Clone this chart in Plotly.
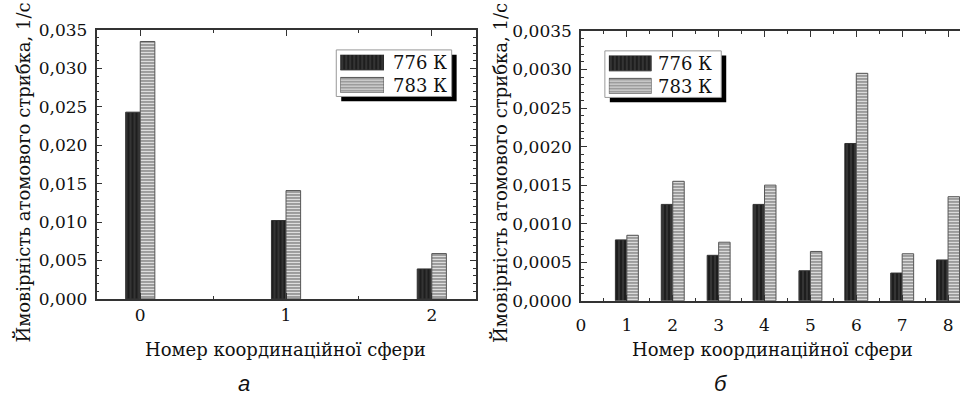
import plotly.graph_objects as go

# ---- data ----
spheres_a = [0, 1, 2]
p776_a = [0.0243, 0.0102, 0.0039]
p783_a = [0.0335, 0.0141, 0.0059]

spheres_b = [1, 2, 3, 4, 5, 6, 7, 8]
p776_b = [0.00079, 0.00125, 0.00059, 0.00125, 0.00039, 0.00204, 0.00036, 0.00053]
p783_b = [0.00085, 0.00155, 0.00076, 0.00150, 0.00064, 0.00295, 0.00061, 0.00135]

series_names = ["776 К", "783 К"]
ytitle = "Ймовірність атомового стрибка, 1/с"
xtitle = "Номер координаційної сфери"
panel_labels = ["а", "б"]

W, H = 960, 403
FONT = "DejaVu Serif"

def px_x(v):
    return v / W

def px_y(v):
    return 1 - v / H

dark = dict(color="#1e1e1e", line=dict(color="#333", width=1),
            pattern=dict(shape="|", fgcolor="#4a4a4a", bgcolor="#1e1e1e", size=4, solidity=0.25, fillmode="replace"))
gray = dict(color="#9a9a9a", line=dict(color="#555", width=1),
            pattern=dict(shape="-", fgcolor="#e0e0e0", bgcolor="#8e8e8e", size=3, solidity=0.45, fillmode="replace"))
styles = [dark, gray]

fig = go.Figure()
fig.add_bar(x=spheres_a, y=p776_a, offset=-0.1, width=0.1, marker=dark, name=series_names[0],
            xaxis="x", yaxis="y")
fig.add_bar(x=spheres_a, y=p783_a, offset=0, width=0.1, marker=gray, name=series_names[1],
            xaxis="x", yaxis="y")
fig.add_bar(x=spheres_b, y=p776_b, offset=-0.25, width=0.25, marker=dark, name=series_names[0],
            xaxis="x2", yaxis="y2")
fig.add_bar(x=spheres_b, y=p783_b, offset=0, width=0.25, marker=gray, name=series_names[1],
            xaxis="x2", yaxis="y2")

# legend key swatches (drawn as small horizontal bars on inset axes)
for k, (xa, ya) in enumerate([("x3", "y3"), ("x4", "y4")]):
    for i, nm in enumerate(series_names):
        fig.add_bar(x=[1], y=[i], orientation="h", width=0.67, marker=styles[i],
                    xaxis=xa, yaxis=ya, hoverinfo="skip", name=nm)

axcommon = dict(showline=True, linecolor="#333", linewidth=1.5, showgrid=False, zeroline=False,
                ticks="inside", tickcolor="#333", ticklen=6, tickwidth=1.2,
                tickfont=dict(family=FONT, size=17, color="#111"))
hidden = dict(visible=False, showgrid=False, zeroline=False, fixedrange=True)

fig.update_layout(
    width=W, height=H, margin=dict(l=0, r=0, t=0, b=0),
    paper_bgcolor="white", plot_bgcolor="rgba(0,0,0,0)",
    separators=", ", barmode="overlay", showlegend=False,
    xaxis=dict(axcommon, domain=[px_x(92), px_x(473)], range=[-0.3, 2.3], tickvals=[0, 1, 2],
               mirror="ticks", anchor="y",
               minor=dict(dtick=0.5, tick0=0, ticks="inside", ticklen=3, tickcolor="#333")),
    yaxis=dict(axcommon, domain=[px_y(304), px_y(21)], range=[0, 0.035], dtick=0.005,
               tickformat=".3f", mirror="ticks", anchor="x", ticklabelstandoff=4,
               minor=dict(dtick=0.001, ticks="inside", ticklen=3, tickcolor="#333")),
    xaxis2=dict(axcommon, domain=[px_x(579), 1.0], range=[0, 8.26], dtick=1, tick0=0,
                mirror="ticks", anchor="y2", ticklabelstandoff=8,
                minor=dict(dtick=0.5, tick0=0, ticks="inside", ticklen=3, tickcolor="#333")),
    yaxis2=dict(axcommon, domain=[px_y(306), px_y(22)], range=[0, 0.0035], dtick=0.0005,
                tickformat=".4f", mirror=False, anchor="x2", ticklabelstandoff=4,
                minor=dict(dtick=0.0001, ticks="inside", ticklen=3, tickcolor="#333")),
    xaxis3=dict(hidden, domain=[px_x(337), px_x(381)], range=[0, 1], anchor="y3"),
    yaxis3=dict(hidden, domain=[px_y(87), px_y(47)], range=[1.333, -0.333], anchor="x3"),
    xaxis4=dict(hidden, domain=[px_x(607), px_x(650)], range=[0, 1], anchor="y4"),
    yaxis4=dict(hidden, domain=[px_y(88), px_y(48)], range=[1.333, -0.333], anchor="x4"),
)

# legend boxes with shadows
for (x0, x1, y0, y1) in [(333, 449, 42, 91), (603, 720, 43, 92)]:
    fig.add_shape(type="rect", xref="paper", yref="paper",
                  x0=px_x(x0 + 5), x1=px_x(x1 + 5), y0=px_y(y1 + 5), y1=px_y(y0 + 5),
                  fillcolor="black", line=dict(width=0), layer="below")
    fig.add_shape(type="rect", xref="paper", yref="paper",
                  x0=px_x(x0), x1=px_x(x1), y0=px_y(y1), y1=px_y(y0),
                  fillcolor="white", line=dict(color="#999", width=1), layer="below")

annots = []
for xt, rows in [(388, (55, 79)), (654, (56, 80))]:
    for nm, yc in zip(series_names, rows):
        annots.append(dict(text=nm, x=px_x(xt), y=px_y(yc), xref="paper", yref="paper",
                           xanchor="left", yanchor="middle", showarrow=False,
                           font=dict(family=FONT, size=18, color="#111")))
for xc in [18, 497]:
    annots.append(dict(text=ytitle, x=px_x(xc), y=px_y(352), xref="paper", yref="paper",
                       xanchor="center", yanchor="bottom", textangle=-90, showarrow=False,
                       font=dict(family=FONT, size=18, color="#111")))
for xc in [282, 772]:
    annots.append(dict(text=xtitle, x=px_x(xc), y=px_y(357), xref="paper", yref="paper",
                       xanchor="center", yanchor="middle", showarrow=False,
                       font=dict(family=FONT, size=18, color="#111")))
for lab, xc in zip(panel_labels, [240, 720]):
    annots.append(dict(text=lab, x=px_x(xc), y=px_y(393), xref="paper", yref="paper",
                       xanchor="center", yanchor="middle", showarrow=False,
                       font=dict(family="Liberation Sans", size=22, color="#111", style="italic")))
fig.update_layout(annotations=annots)

fig.write_html("out.html")
